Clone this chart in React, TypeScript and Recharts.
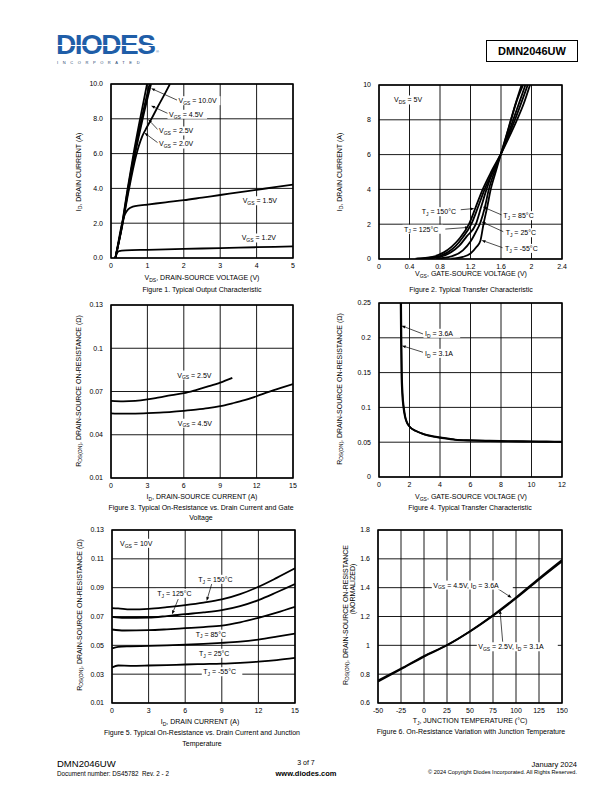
import React from 'react';
import { LineChart, Line, XAxis, YAxis, CartesianGrid, ReferenceArea, ReferenceLine, ReferenceDot } from 'recharts';

const FONT = '"Liberation Sans", Arial, Helvetica, sans-serif';

// ---------- Figure 1: Typical Output Characteristic ----------
const fig1XTicks = [0, 1, 2, 3, 4, 5];
const fig1YTicks = [0, 2, 4, 6, 8, 10];
const fig1Vgs10 = [[0.12, 0], [0.3, 1.9], [0.45, 3.9], [0.62, 6], [0.8, 8], [0.99, 10]];
const fig1Vgs45 = [[0.12, 0], [0.3, 1.85], [0.46, 3.9], [0.64, 6], [0.84, 8], [1.06, 10]];
const fig1Vgs25 = [[0.12, 0], [0.3, 1.8], [0.47, 3.85], [0.66, 5.95], [0.87, 8], [1.1, 10]];
const fig1Vgs20 = [[0.12, 0], [0.3, 1.75], [0.48, 3.8], [0.68, 5.8], [0.86, 7.0], [0.95, 7.38], [1.1, 7.95], [1.3, 8.75], [1.5, 9.52], [1.62, 10]];
const fig1Vgs15 = [[0.12, 0], [0.21, 1.0], [0.3, 1.95], [0.38, 2.5], [0.47, 2.8], [0.6, 2.95], [0.8, 3.02], [1, 3.07], [1.5, 3.2], [2, 3.32], [2.5, 3.47], [3, 3.62], [3.5, 3.77], [4, 3.92], [4.5, 4.07], [5, 4.22]];
const fig1Vgs12 = [[0.12, 0], [0.16, 0.25], [0.22, 0.4], [0.4, 0.44], [1, 0.47], [2, 0.52], [3, 0.57], [4, 0.62], [5, 0.67]];

// ---------- Figure 2: Typical Transfer Characteristic ----------
const fig2XTicks = [0, 0.4, 0.8, 1.2, 1.6, 2, 2.4];
const fig2YTicks = [0, 2, 4, 6, 8, 10];
const fig2T150 = [[0.48, 0.02], [0.7, 0.12], [0.85, 0.38], [0.95, 0.7], [1.05, 1.15], [1.18, 2.0], [1.27, 3.0], [1.36, 4.0], [1.47, 5.0], [1.6, 6.05], [1.7, 6.95], [1.8, 7.9], [1.9, 8.95], [1.98, 10]];
const fig2T125 = [[0.5, 0.02], [0.75, 0.12], [0.9, 0.38], [1.0, 0.72], [1.1, 1.25], [1.21, 2.0], [1.3, 3.0], [1.385, 4.0], [1.49, 5.0], [1.6, 6.05], [1.7, 7.1], [1.8, 8.2], [1.95, 10]];
const fig2T85 = [[0.6, 0.02], [0.8, 0.12], [0.95, 0.4], [1.05, 0.75], [1.15, 1.3], [1.27, 2.0], [1.34, 3.0], [1.41, 4.0], [1.5, 5.1], [1.6, 6.05], [1.7, 7.25], [1.8, 8.5], [1.92, 10]];
const fig2T25 = [[0.75, 0.02], [0.95, 0.15], [1.1, 0.5], [1.2, 1.0], [1.27, 1.55], [1.33, 2.1], [1.39, 3.0], [1.44, 4.0], [1.52, 5.1], [1.6, 6.05], [1.7, 7.5], [1.8, 9.0], [1.89, 10]];
const fig2Tm55 = [[0.95, 0.02], [1.1, 0.12], [1.2, 0.32], [1.28, 0.7], [1.33, 1.05], [1.37, 2.0], [1.42, 3.0], [1.465, 4.0], [1.53, 5.0], [1.6, 6.05], [1.7, 7.55], [1.8, 9.05], [1.87, 10]];

// ---------- Figure 3: On-Resistance vs Drain Current and Gate Voltage ----------
const fig3XTicks = [0, 3, 6, 9, 12, 15];
const fig3YTicks = [0.01, 0.04, 0.07, 0.1, 0.13];
const fig3Vgs25 = [[0, 0.0635], [1, 0.0632], [2, 0.0635], [3, 0.0645], [4, 0.066], [5, 0.0675], [6, 0.0688], [7, 0.071], [8, 0.0735], [9, 0.0762], [10, 0.0795]];
const fig3Vgs45 = [[0, 0.0548], [1, 0.0546], [2, 0.0547], [3, 0.055], [4, 0.0554], [5, 0.0559], [6, 0.0566], [7, 0.0574], [8, 0.0584], [9, 0.0598], [10, 0.0618], [11, 0.064], [12, 0.0667], [13, 0.0697], [14, 0.0725], [15, 0.0752]];

// ---------- Figure 4: On-Resistance vs Gate-Source Voltage ----------
const fig4XTicks = [0, 2, 4, 6, 8, 10, 12];
const fig4YTicks = [0, 0.05, 0.1, 0.15, 0.2, 0.25];
const fig4Id36 = [[1.42, 0.25], [1.44, 0.2], [1.47, 0.15], [1.52, 0.12], [1.6, 0.1], [1.7, 0.087], [1.8, 0.0795], [2.0, 0.0725], [2.4, 0.0665], [2.8, 0.0628], [3.2, 0.0602], [3.6, 0.0584], [4, 0.057], [5, 0.0538], [6, 0.0528], [7, 0.0522], [8, 0.0518], [9, 0.0515], [10, 0.0512], [11, 0.051], [12, 0.0508]];
const fig4Id31 = [[1.45, 0.25], [1.47, 0.2], [1.5, 0.15], [1.55, 0.12], [1.63, 0.1], [1.73, 0.086], [1.83, 0.0788], [2.03, 0.0718], [2.43, 0.066], [2.83, 0.0622], [3.23, 0.0596], [3.63, 0.0578], [4.03, 0.0564], [5, 0.0533], [6, 0.0523], [7, 0.0517], [8, 0.0513], [9, 0.051], [10, 0.0507], [11, 0.0505], [12, 0.0503]];

// ---------- Figure 5: On-Resistance vs Drain Current and Junction Temperature ----------
const fig5XTicks = [0, 3, 6, 9, 12, 15];
const fig5YTicks = [0.01, 0.03, 0.05, 0.07, 0.09, 0.11, 0.13];
const fig5T150 = [[0, 0.0758], [0.5, 0.0756], [1.5, 0.0749], [3, 0.0753], [4.5, 0.0765], [6, 0.0779], [7.5, 0.0796], [9, 0.0818], [10.5, 0.0855], [12, 0.0906], [13.5, 0.0968], [15, 0.1034]];
const fig5T125 = [[0, 0.0698], [1, 0.0691], [3, 0.0693], [4.5, 0.0703], [6, 0.0716], [7.5, 0.0728], [9, 0.0744], [10.5, 0.0772], [12, 0.0814], [13.5, 0.0868], [15, 0.0925]];
const fig5T85 = [[0, 0.061], [1, 0.0603], [3, 0.0605], [4.5, 0.0611], [6, 0.0619], [7.5, 0.0627], [9, 0.0637], [10.5, 0.066], [12, 0.0691], [13.5, 0.0727], [15, 0.0767]];
const fig5T25 = [[0, 0.0478], [0.5, 0.049], [1.5, 0.0493], [3, 0.0496], [4.5, 0.05], [6, 0.0505], [7.5, 0.051], [9, 0.0517], [10.5, 0.0526], [12, 0.054], [13.5, 0.056], [15, 0.0582]];
const fig5Tm55 = [[0, 0.0346], [0.5, 0.036], [1.5, 0.0358], [3, 0.036], [4.5, 0.0363], [6, 0.0367], [7.5, 0.037], [9, 0.0373], [10.5, 0.0379], [12, 0.0387], [13.5, 0.0398], [15, 0.0413]];

// ---------- Figure 6: On-Resistance vs Junction Temperature ----------
const fig6XTicks = [-50, -25, 0, 25, 50, 75, 100, 125, 150];
const fig6YTicks = [0.6, 0.8, 1, 1.2, 1.4, 1.6, 1.8];
const fig6Vgs45 = [[-50, 0.748], [-25, 0.834], [0, 0.922], [25, 1.0], [50, 1.098], [75, 1.209], [100, 1.332], [125, 1.464], [150, 1.592]];
const fig6Vgs25 = [[-50, 0.756], [-25, 0.839], [0, 0.926], [25, 1.002], [50, 1.096], [75, 1.205], [100, 1.326], [125, 1.456], [150, 1.582]];

type Pair = number[];
type Note =
  | { kind: 'text'; x: number; y: number; text: string }
  | { kind: 'arrow'; x1: number; y1: number; x2: number; y2: number };

const toPts = (a: Pair[]) => a.map(([x, y]) => ({ x, y }));

function parseRich(s: string) {
  return s.split('|').map((t, i) => ({ t, sub: i % 2 === 1 })).filter((p) => p.t.length > 0);
}

function richWidth(s: string, size = 7) {
  return parseRich(s).reduce((w, p) => w + p.t.length * (p.sub ? 5 * 0.58 : size * 0.55), 0);
}

function RichSvg({ x, y, text, size = 7 }: { x: number; y: number; text: string; size?: number }) {
  const parts = parseRich(text);
  let prevSub = false;
  return (
    <text x={x} y={y + size * 0.35} fontSize={size} fontFamily={FONT} fill="#000">
      {parts.map((p, i) => {
        const dy = p.sub && !prevSub ? 1.8 : !p.sub && prevSub ? -1.8 : 0;
        prevSub = p.sub;
        return (
          <tspan key={i} dy={dy} fontSize={p.sub ? 5 : size}>
            {p.t}
          </tspan>
        );
      })}
    </text>
  );
}

function rh(s: string) {
  return s.split('|').map((t, i) =>
    i % 2 === 1 ? (
      <span key={i} style={{ fontSize: '0.72em', verticalAlign: '-0.3em', lineHeight: 0 }}>
        {t}
      </span>
    ) : (
      <React.Fragment key={i}>{t}</React.Fragment>
    )
  );
}

const arrowShape = (p: any) => {
  const x1 = Number(p.x1), y1 = Number(p.y1), x2 = Number(p.x2), y2 = Number(p.y2);
  const dx = x2 - x1, dy = y2 - y1;
  const len = Math.hypot(dx, dy) || 1;
  const ux = dx / len, uy = dy / len;
  const L = 4, W = 1.5;
  const bx = x2 - ux * L, by = y2 - uy * L;
  const pts = `${x2},${y2} ${bx - uy * W},${by + ux * W} ${bx + uy * W},${by - ux * W}`;
  return (
    <g>
      <line x1={x1} y1={y1} x2={bx} y2={by} stroke="#000" strokeWidth={0.7} />
      <polygon points={pts} fill="#000" />
    </g>
  );
};

const labelShape = (text: string) => (p: any) => {
  const cx = Number(p.cx), cy = Number(p.cy);
  const w = richWidth(text);
  return (
    <g>
      <rect x={cx - 1.5} y={cy - 4.5} width={w + 3} height={9} fill="#fff" />
      <RichSvg x={cx} y={cy} text={text} />
    </g>
  );
};

type PanelProps = {
  plot: { left: number; top: number; width: number; height: number };
  xDomain: [number, number];
  xTicks: number[];
  yDomain: [number, number];
  yTicks: number[];
  yFmt?: (v: number) => string;
  series: { name: string; pts: Pair[] }[];
  notes: Note[];
};

function Panel({ plot, xDomain, xTicks, yDomain, yTicks, yFmt, series, notes }: PanelProps) {
  const ML = 40, MT = 6, MR = 6, XH = 22;
  const tickStyle = { fontSize: 7, fill: '#000', fontFamily: FONT };
  return (
    <div style={{ position: 'absolute', left: plot.left - ML, top: plot.top - MT }}>
      <LineChart width={plot.width + ML + MR} height={plot.height + MT + XH} margin={{ top: MT, right: MR, bottom: 0, left: 0 }}>
        <CartesianGrid stroke="#000" strokeWidth={0.9} />
        <XAxis
          type="number"
          dataKey="x"
          domain={xDomain}
          ticks={xTicks}
          interval={0}
          allowDataOverflow
          height={XH}
          tickLine={false}
          axisLine={false}
          tickSize={0}
          tickMargin={5}
          tick={tickStyle}
        />
        <YAxis
          type="number"
          domain={yDomain}
          ticks={yTicks}
          interval={0}
          allowDataOverflow
          width={ML}
          tickLine={false}
          axisLine={false}
          tickSize={0}
          tickMargin={8}
          tickFormatter={yFmt ? (v: number) => yFmt(v) : (v: number) => String(v)}
          tick={tickStyle}
        />
        {notes.map((n, i) =>
          n.kind === 'arrow' ? (
            <ReferenceLine
              key={'a' + i}
              segment={[{ x: n.x1, y: n.y1 }, { x: n.x2, y: n.y2 }]}
              stroke="#000"
              ifOverflow="visible"
              shape={arrowShape}
            />
          ) : null
        )}
        {notes.map((n, i) =>
          n.kind === 'text' ? (
            <ReferenceDot key={'t' + i} x={n.x} y={n.y} r={0} ifOverflow="visible" shape={labelShape(n.text)} />
          ) : null
        )}
        {series.map((s) => (
          <Line
            key={s.name}
            name={s.name}
            data={toPts(s.pts)}
            dataKey="y"
            type="monotone"
            stroke="#000"
            strokeWidth={1.8}
            dot={false}
            activeDot={false}
            isAnimationActive={false}
          />
        ))}
        <ReferenceArea x1={xDomain[0]} x2={xDomain[1]} y1={yDomain[0]} y2={yDomain[1]} fill="none" stroke="#000" strokeWidth={1.5} ifOverflow="visible" />
      </LineChart>
    </div>
  );
}

function T({ x, y, size = 7, align = 'left', bold = false, color = '#000', children }: any) {
  const style: any = {
    position: 'absolute',
    top: y - size * 0.6,
    fontSize: size,
    lineHeight: `${size * 1.2}px`,
    whiteSpace: 'nowrap',
    fontWeight: bold ? 700 : 400,
    color,
  };
  if (align === 'left') style.left = x;
  else if (align === 'right') style.right = 612 - x;
  else {
    style.left = x;
    style.transform = 'translateX(-50%)';
  }
  return <div style={style}>{children}</div>;
}

function VT({ x, y, size = 7, children }: any) {
  return (
    <div
      style={{
        position: 'absolute',
        left: x,
        top: y,
        fontSize: size,
        lineHeight: 1,
        whiteSpace: 'nowrap',
        transform: 'translate(-50%,-50%) rotate(-90deg)',
      }}
    >
      {children}
    </div>
  );
}

const txt = (x: number, y: number, text: string): Note => ({ kind: 'text', x, y, text });
const arr = (x1: number, y1: number, x2: number, y2: number): Note => ({ kind: 'arrow', x1, y1, x2, y2 });

export default function App() {
  const rdsTitle = 'R|DS(ON)|, DRAIN-SOURCE ON-RESISTANCE (Ω)';
  return (
    <div
      style={{
        position: 'absolute',
        left: 0,
        top: 0,
        width: 612,
        height: 792,
        background: '#fff',
        fontFamily: FONT,
        color: '#000',
        overflow: 'hidden',
      }}
    >
      {/* Header */}
      <div style={{ position: 'absolute', left: 56, top: 34.8, fontSize: 28, fontWeight: 900, color: '#1f5ea8', letterSpacing: -1.5, lineHeight: '20px', height: 20 }}>
        DIODES
      </div>
      <div style={{ position: 'absolute', left: 56, top: 45, width: 102, height: 1.2, background: '#fff' }} />
      <div style={{ position: 'absolute', left: 57, top: 60.3, fontSize: 4, letterSpacing: 4.6, color: '#1f3f6e', lineHeight: '5px' }}>INCORPORATED</div>
      <div style={{ position: 'absolute', left: 156, top: 49, fontSize: 4, lineHeight: '5px', color: '#1f5ea8' }}>®</div>
      <div
        style={{
          position: 'absolute',
          left: 486,
          top: 40,
          width: 90,
          height: 20,
          border: '1px solid #000',
          fontSize: 11,
          fontWeight: 700,
          lineHeight: '20px',
          textAlign: 'center',
        }}
      >
        DMN2046UW
      </div>

      {/* Figure 1 */}
      <Panel
        plot={{ left: 111, top: 84, width: 182, height: 174 }}
        xDomain={[0, 5]}
        xTicks={fig1XTicks}
        yDomain={[0, 10]}
        yTicks={fig1YTicks}
        yFmt={(v) => v.toFixed(1)}
        series={[
          { name: 'VGS=10.0V', pts: fig1Vgs10 },
          { name: 'VGS=4.5V', pts: fig1Vgs45 },
          { name: 'VGS=2.5V', pts: fig1Vgs25 },
          { name: 'VGS=2.0V', pts: fig1Vgs20 },
          { name: 'VGS=1.5V', pts: fig1Vgs15 },
          { name: 'VGS=1.2V', pts: fig1Vgs12 },
        ]}
        notes={[
          arr(1.83, 9.06, 1.1, 9.75),
          arr(1.57, 8.3, 1.1, 8.75),
          arr(1.3, 7.35, 1.02, 7.97),
          arr(1.3, 6.6, 0.915, 7.2),
          txt(1.854, 9.04, 'V|GS| = 10.0V'),
          txt(1.593, 8.26, 'V|GS| = 4.5V'),
          txt(1.319, 7.3, 'V|GS| = 2.5V'),
          txt(1.319, 6.55, 'V|GS| = 2.0V'),
          txt(3.618, 3.29, 'V|GS| = 1.5V'),
          txt(3.59, 1.15, 'V|GS| = 1.2V'),
        ]}
      />
      <T x={202} y={278} align="center">{rh('V|DS|, DRAIN-SOURCE VOLTAGE (V)')}</T>
      <T x={202} y={290} align="center">Figure 1. Typical Output Characteristic</T>
      <VT x={78} y={172}>{rh('I|D|, DRAIN CURRENT (A)')}</VT>

      {/* Figure 2 */}
      <Panel
        plot={{ left: 379, top: 85, width: 183, height: 174 }}
        xDomain={[0, 2.4]}
        xTicks={fig2XTicks}
        yDomain={[0, 10]}
        yTicks={fig2YTicks}
        series={[
          { name: 'TJ=150', pts: fig2T150 },
          { name: 'TJ=125', pts: fig2T125 },
          { name: 'TJ=85', pts: fig2T85 },
          { name: 'TJ=25', pts: fig2T25 },
          { name: 'TJ=-55', pts: fig2Tm55 },
        ]}
        notes={[
          arr(1.04, 2.82, 1.25, 2.9),
          arr(0.87, 1.72, 1.18, 1.82),
          arr(1.61, 2.53, 1.36, 3.0),
          arr(1.63, 1.57, 1.345, 2.14),
          arr(1.62, 0.65, 1.345, 1.08),
          txt(0.197, 9.14, 'V|DS| = 5V'),
          txt(0.56, 2.72, 'T|J| = 150°C'),
          txt(0.328, 1.71, 'T|J| = 125°C'),
          txt(1.63, 2.49, 'T|J| = 85°C'),
          txt(1.661, 1.51, 'T|J| = 25°C'),
          txt(1.652, 0.61, 'T|J| = -55°C'),
        ]}
      />
      <T x={471} y={274} align="center">{rh('V|GS|, GATE-SOURCE VOLTAGE (V)')}</T>
      <T x={471} y={290} align="center">Figure 2. Typical Transfer Characteristic</T>
      <VT x={339} y={172}>{rh('I|D|, DRAIN CURRENT (A)')}</VT>

      {/* Figure 3 */}
      <Panel
        plot={{ left: 111, top: 305, width: 182, height: 173 }}
        xDomain={[0, 15]}
        xTicks={fig3XTicks}
        yDomain={[0.01, 0.13]}
        yTicks={fig3YTicks}
        series={[
          { name: 'VGS=2.5V', pts: fig3Vgs25 },
          { name: 'VGS=4.5V', pts: fig3Vgs45 },
        ]}
        notes={[txt(5.46, 0.0814, 'V|GS| = 2.5V'), txt(5.5, 0.048, 'V|GS| = 4.5V')]}
      />
      <T x={202} y={497} align="center">{rh('I|D|, DRAIN-SOURCE CURRENT (A)')}</T>
      <T x={201} y={508} align="center">Figure 3. Typical On-Resistance vs. Drain Current and Gate</T>
      <T x={201} y={518.5} align="center">Voltage</T>
      <VT x={78} y={391}>{rh(rdsTitle)}</VT>

      {/* Figure 4 */}
      <Panel
        plot={{ left: 379, top: 303, width: 183, height: 174 }}
        xDomain={[0, 12]}
        xTicks={fig4XTicks}
        yDomain={[0, 0.25]}
        yTicks={fig4YTicks}
        series={[
          { name: 'ID=3.6A', pts: fig4Id36 },
          { name: 'ID=3.1A', pts: fig4Id31 },
        ]}
        notes={[
          arr(2.885, 0.2055, 1.47, 0.2174),
          arr(2.885, 0.1792, 1.5, 0.1887),
          txt(3.016, 0.2065, 'I|D| = 3.6A'),
          txt(3.016, 0.1777, 'I|D| = 3.1A'),
        ]}
      />
      <T x={471} y={497.5} align="center">{rh('V|GS|, GATE-SOURCE VOLTAGE (V)')}</T>
      <T x={470} y={508.5} align="center">Figure 4. Typical Transfer Characteristic</T>
      <VT x={339} y={389}>{rh(rdsTitle)}</VT>

      {/* Figure 5 */}
      <Panel
        plot={{ left: 112, top: 530, width: 183, height: 173 }}
        xDomain={[0, 15]}
        xTicks={fig5XTicks}
        yDomain={[0.01, 0.13]}
        yTicks={fig5YTicks}
        series={[
          { name: 'TJ=150', pts: fig5T150 },
          { name: 'TJ=125', pts: fig5T125 },
          { name: 'TJ=85', pts: fig5T85 },
          { name: 'TJ=25', pts: fig5T25 },
          { name: 'TJ=-55', pts: fig5Tm55 },
        ]}
        notes={[
          arr(8.17, 0.0925, 7.76, 0.0808),
          arr(5.43, 0.0821, 4.92, 0.0715),
          txt(0.656, 0.1208, 'V|GS| = 10V'),
          txt(7.07, 0.0958, 'T|J| = 150°C'),
          txt(3.71, 0.0861, 'T|J| = 125°C'),
          txt(6.86, 0.0577, 'T|J| = 85°C'),
          txt(7.13, 0.0445, 'T|J| = 25°C'),
          txt(7.48, 0.0317, 'T|J| = -55°C'),
        ]}
      />
      <T x={200} y={722.5} align="center">{rh('I|D|, DRAIN CURRENT (A)')}</T>
      <T x={202} y={733.5} align="center">Figure 5. Typical On-Resistance vs. Drain Current and Junction</T>
      <T x={202} y={744} align="center">Temperature</T>
      <VT x={79} y={615}>{rh(rdsTitle)}</VT>

      {/* Figure 6 */}
      <Panel
        plot={{ left: 378, top: 530, width: 184, height: 173 }}
        xDomain={[-50, 150]}
        xTicks={fig6XTicks}
        yDomain={[0.6, 1.8]}
        yTicks={fig6YTicks}
        series={[
          { name: 'VGS=4.5V', pts: fig6Vgs45 },
          { name: 'VGS=2.5V', pts: fig6Vgs25 },
        ]}
        notes={[
          arr(79, 1.398, 95.3, 1.33),
          arr(85.5, 1.025, 82.6, 1.245),
          txt(10.1, 1.418, 'V|GS| = 4.5V, I|D| = 3.6A'),
          txt(59, 0.99, 'V|GS| = 2.5V, I|D| = 3.1A'),
        ]}
      />
      <T x={470} y={721} align="center">{rh('T|J|, JUNCTION TEMPERATURE (°C)')}</T>
      <T x={471} y={732} align="center">Figure 6. On-Resistance Variation with Junction Temperature</T>
      <VT x={345} y={615}>{rh('R|DS(ON)|, DRAIN-SOURCE ON-RESISTANCE')}</VT>
      <VT x={352} y={589}>(NORMALIZED)</VT>

      {/* Footer */}
      <T x={57} y={764} size={9.5}>DMN2046UW</T>
      <T x={57} y={773.5} size={6.3}>Document number: DS45782&nbsp; Rev. 2 - 2</T>
      <T x={306} y={763.5} size={7} align="center">3 of 7</T>
      <T x={306} y={773} size={7.5} align="center" bold>www.diodes.com</T>
      <T x={577} y={764} size={7.5} align="right">January 2024</T>
      <T x={577} y={772.5} size={5.6} align="right">© 2024 Copyright Diodes Incorporated. All Rights Reserved.</T>
    </div>
  );
}
